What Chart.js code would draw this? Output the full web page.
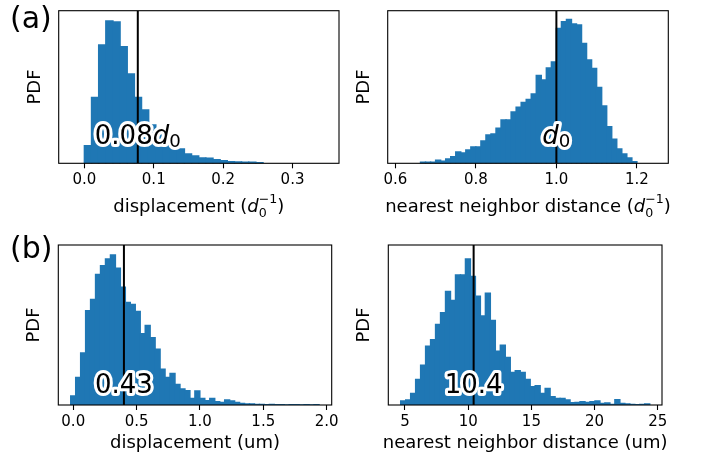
<!DOCTYPE html>
<html><head><meta charset="utf-8">
<script src="https://cdn.jsdelivr.net/npm/chart.js@4.4.0/dist/chart.umd.min.js"></script>
<style>
html,body{margin:0;padding:0;background:#fff;}
#wrap{position:relative;width:706px;height:460px;overflow:hidden;background:#fff;}
canvas{position:absolute;left:0;top:0;}
</style></head><body>
<div id="wrap">
<canvas id="c1" width="706" height="460"></canvas>
<canvas id="c2" width="706" height="460"></canvas>
<canvas id="c3" width="706" height="460"></canvas>
<canvas id="c4" width="706" height="460"></canvas>
</div>
<script>
// ---------- data ----------
// (a) left: displacement in units of d0
const aDispBinStart = 0.0;
const aDispBinWidth = 0.0103;
const aDispHeights = [53,198,355,427,424,350,268,198,160,115,85,62,50,43,28,22,16,15,11,8,5,4,3,3,2];
const aDispMarker = 0.077;
const aDispTicks = [0.0, 0.1, 0.2, 0.3];
const aDispRange = [-0.037, 0.367];

// (a) right: nearest neighbor distance in units of d0
const aNnBinStart = 0.6625;
const aNnBinWidth = 0.0125;
const aNnHeights = [3,3,3,9,6,13,20,34,31,40,49,49,67,85,88,105,130,130,154,168,183,192,208,264,250,286,304,405,425,432,418,415,360,310,285,228,172,110,72,43,28,16,5];
const aNnMarker = 1.0;
const aNnTicks = [0.6, 0.8, 1.0, 1.2];
const aNnRange = [0.581, 1.278];

// (b) left: displacement (um)
const bDispBinStart = -0.02;
const bDispBinWidth = 0.0392;
const bDispHeights = [27,83,157,284,318,393,420,440,452,412,355,309,303,282,215,240,203,168,108,83,95,62,48,43,20,42,20,13,20,10,8,15,12,8,5,3,3,2,2,1,2,1,1,0,1,1,0,1,0,1];
const bDispMarker = 0.40;
const bDispTicks = [0.0, 0.5, 1.0, 1.5, 2.0];
const bDispRange = [-0.118, 2.04];

// (b) right: nearest neighbor distance (um)
const bNnBinStart = 4.66;
const bNnBinWidth = 0.394;
const bNnHeights = [12,15,35,77,120,177,197,243,278,342,315,392,392,440,387,328,268,337,255,162,180,143,98,103,98,77,55,58,35,50,25,20,20,15,7,8,10,8,10,12,5,6,2,16,5,3,2,1,2,3];
const bNnMarker = 10.43;
const bNnTicks = [5, 10, 15, 20, 25];
const bNnRange = [3.68, 25.33];

const yMaxA = 458, yMaxB = 482;
const annotYA = 58, annotYB = 35;

// ---------- rendering ----------
Chart.defaults.font.family = '"DejaVu Sans"';
Chart.defaults.color = '#000';
const FAM = '"DejaVu Sans"';

function fontOf(p, size){ return (p.it ? 'italic ' : '') + (size * (p.s || 1)) + 'px ' + FAM; }
function segWidth(ctx, seg, size){
  if (seg.stack) return Math.max.apply(null, seg.stack.map(s => segWidth(ctx, s, size)));
  ctx.font = fontOf(seg, size);
  return ctx.measureText(seg.t).width;
}
function drawRich(ctx, segs, cx, y, size, halo){
  const widths = segs.map(s => segWidth(ctx, s, size));
  const total = widths.reduce((a, b) => a + b, 0);
  ctx.save();
  ctx.textBaseline = 'alphabetic';
  ctx.textAlign = 'left';
  const passes = halo ? ['stroke', 'fill'] : ['fill'];
  for (const pass of passes){
    let x = cx - total / 2;
    segs.forEach((seg, i) => {
      const parts = seg.stack || [seg];
      for (const p of parts){
        ctx.font = fontOf(p, size);
        const yy = y + (p.dy || 0) * size;
        if (pass === 'stroke'){
          ctx.lineWidth = halo; ctx.strokeStyle = '#fff'; ctx.lineJoin = 'round';
          ctx.strokeText(p.t, x, yy);
        } else {
          ctx.fillStyle = '#000';
          ctx.fillText(p.t, x, yy);
        }
      }
      x += widths[i];
    });
  }
  ctx.restore();
}

const decorPlugin = {
  id: 'decor',
  afterDatasetsDraw(chart, args, opts){
    const ctx = chart.ctx, a = chart.chartArea;
    ctx.save();
    ctx.strokeStyle = '#000';
    ctx.lineWidth = 1.1;
    ctx.strokeRect(a.left, a.top, a.right - a.left, a.bottom - a.top);
    ctx.restore();
  },
  afterDraw(chart, args, opts){
    const ctx = chart.ctx, a = chart.chartArea;
    const xs = chart.scales.x, ys = chart.scales.y;
    drawRich(ctx, opts.annot, xs.getPixelForValue(opts.markerX), ys.getPixelForValue(opts.annotY), 26, 6);
    drawRich(ctx, opts.xTitle, (a.left + a.right) / 2, a.bottom + opts.xTitleOffset, 18, 0);
    if (opts.panel){
      ctx.save();
      ctx.font = '30px ' + FAM;
      ctx.fillStyle = '#000';
      ctx.textBaseline = 'alphabetic';
      ctx.textAlign = 'left';
      ctx.fillText(opts.panel, 10, a.top + opts.panelDy);
      ctx.restore();
    }
  }
};

function bars(start, width, heights){
  return heights.map((h, i) => ({x: start + (i + 0.5) * width, y: h}));
}

function makeChart(id, cfg){
  const box = cfg.box; // [left, top, right, bottom]
  const YW = 40, XH = 30;
  return new Chart(document.getElementById(id), {
    type: 'bar',
    data: {
      datasets: [
        { type: 'line', data: [{x: cfg.marker, y: 0}, {x: cfg.marker, y: cfg.yMax}],
          borderColor: '#000', borderWidth: 2, pointRadius: 0, order: 0, fill: false },
        { type: 'bar', data: bars(cfg.start, cfg.width, cfg.heights),
          backgroundColor: '#1f77b4', borderWidth: 0, inflateAmount: 0.7,
          barPercentage: 1, categoryPercentage: 1, order: 1 }
      ]
    },
    options: {
      responsive: false, animation: false, events: [],
      layout: { padding: { left: box[0] - YW, top: box[1], right: 706 - box[2], bottom: 460 - box[3] - XH } },
      plugins: {
        legend: { display: false }, tooltip: { enabled: false },
        decor: { annot: cfg.annot, markerX: cfg.marker, annotY: cfg.annotY, xTitle: cfg.xTitle,
                 xTitleOffset: cfg.xTitleOffset, panel: cfg.panel, panelDy: cfg.panelDy }
      },
      scales: {
        x: {
          type: 'linear', min: cfg.range[0], max: cfg.range[1], offset: false,
          afterBuildTicks: s => { s.ticks = cfg.ticks.map(v => ({value: v})); },
          afterFit: s => { s.height = XH; },
          ticks: { callback: v => Number(v).toFixed(cfg.dec), font: { size: 15 }, color: '#000',
                   padding: 3, maxRotation: 0, autoSkip: false },
          grid: { display: true, offset: false, drawOnChartArea: false, drawTicks: true,
                  tickLength: 5, tickColor: '#000', tickWidth: 1.1 },
          border: { display: false }
        },
        y: {
          type: 'linear', min: 0, max: cfg.yMax,
          afterFit: s => { s.width = YW; },
          ticks: { display: false },
          grid: { display: false },
          border: { display: false },
          title: { display: true, text: 'PDF', font: { size: 18 }, color: '#000', padding: { top: 5.6, bottom: 0 } }
        }
      }
    },
    plugins: [decorPlugin]
  });
}

const subD0 = [{t: 'd', it: true}, {t: '0', s: 0.7, dy: 0.12}];
const unitD0inv = [{t: 'd', it: true}, {stack: [{t: '0', s: 0.7, dy: 0.28}, {t: '\u22121', s: 0.7, dy: -0.5}]}, {t: ')'}];

makeChart('c1', {
  box: [58.7, 10.7, 339, 163.3], start: aDispBinStart, width: aDispBinWidth, heights: aDispHeights,
  marker: aDispMarker, ticks: aDispTicks, range: aDispRange, dec: 1, yMax: yMaxA, annotY: annotYA,
  annot: [{t: '0.08'}].concat(subD0),
  xTitle: [{t: 'displacement ('}].concat(unitD0inv), xTitleOffset: 49,
  panel: '(a)', panelDy: 17.6
});
makeChart('c2', {
  box: [387.7, 10.7, 668.3, 163.3], start: aNnBinStart, width: aNnBinWidth, heights: aNnHeights,
  marker: aNnMarker, ticks: aNnTicks, range: aNnRange, dec: 1, yMax: yMaxA, annotY: annotYA,
  annot: subD0,
  xTitle: [{t: 'nearest neighbor distance ('}].concat(unitD0inv), xTitleOffset: 49
});
makeChart('c3', {
  box: [58.3, 245, 331.7, 405], start: bDispBinStart, width: bDispBinWidth, heights: bDispHeights,
  marker: bDispMarker, ticks: bDispTicks, range: bDispRange, dec: 1, yMax: yMaxB, annotY: annotYB,
  annot: [{t: '0.43'}],
  xTitle: [{t: 'displacement (um)'}], xTitleOffset: 43,
  panel: '(b)', panelDy: 12.7
});
makeChart('c4', {
  box: [388.3, 245, 662, 405], start: bNnBinStart, width: bNnBinWidth, heights: bNnHeights,
  marker: bNnMarker, ticks: bNnTicks, range: bNnRange, dec: 0, yMax: yMaxB, annotY: annotYB,
  annot: [{t: '10.4'}],
  xTitle: [{t: 'nearest neighbor distance (um)'}], xTitleOffset: 43
});
</script>
</body></html>
